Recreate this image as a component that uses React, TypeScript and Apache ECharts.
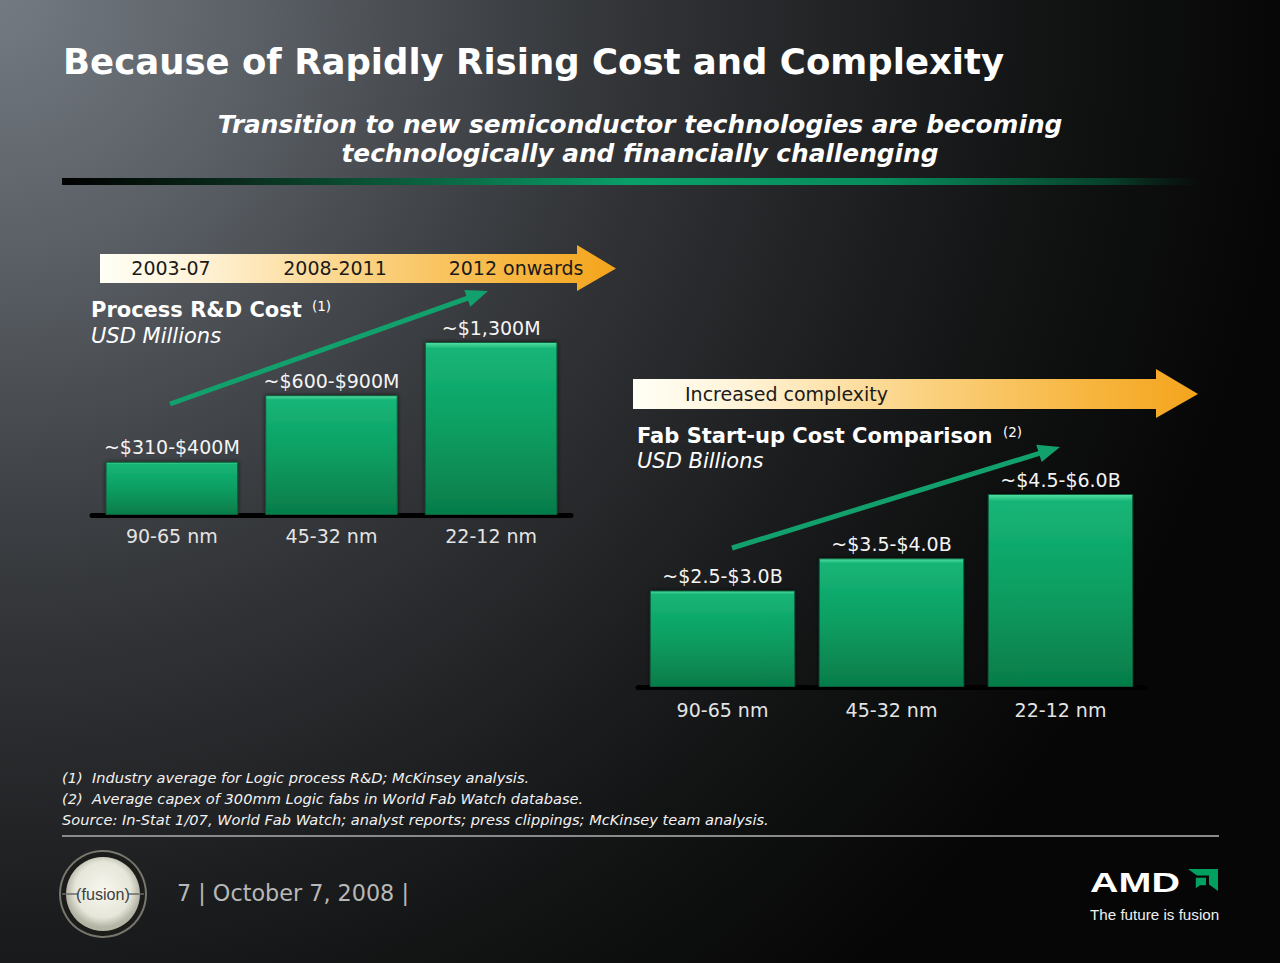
import React, { useEffect, useRef } from "react";
import * as echarts from "echarts";

// ---------- data ----------
const nodeCategories = ["90-65 nm", "45-32 nm", "22-12 nm"];
const rdUpperValues = [400, 900, 1300]; // USD millions (upper bound of range)
const rdLabels = ["~$310-$400M", "~$600-$900M", "~$1,300M"];
const fabUpperValues = [3.0, 4.0, 6.0]; // USD billions (upper bound of range)
const fabLabels = ["~$2.5-$3.0B", "~$3.5-$4.0B", "~$4.5-$6.0B"];
const periodLabels = ["2003-07", "2008-2011", "2012 onwards"];
const complexityLabel = "Increased complexity";
const titleText = "Because of Rapidly Rising Cost and Complexity";
const subtitleLines = [
  "Transition to new semiconductor technologies are becoming",
  "technologically and financially challenging",
];
const footnotes = [
  "(1)  Industry average for Logic process R&D; McKinsey analysis.",
  "(2)  Average capex of 300mm Logic fabs in World Fab Watch database.",
  "Source: In-Stat 1/07, World Fab Watch; analyst reports; press clippings; McKinsey team analysis.",
];
const footerText = "7 | October 7, 2008 |";

const SANS = '"DejaVu Sans", Verdana, sans-serif';
const ARIAL = '"Liberation Sans", Arial, sans-serif';

function txt(text: string, x: number, y: number, s: any = {}) {
  return {
    type: "text",
    x,
    y,
    z: 10,
    silent: true,
    scaleX: s.scaleX ?? 1,
    style: {
      text,
      fill: s.fill ?? "#ffffff",
      fontSize: s.fontSize ?? 19,
      fontFamily: s.fontFamily ?? SANS,
      fontWeight: s.fontWeight ?? "normal",
      fontStyle: s.fontStyle ?? "normal",
      align: s.align ?? "left",
      verticalAlign: "middle",
    },
  };
}

function bandArrow(x0: number, yTop: number, yBot: number, headX: number, headTop: number, headBot: number, tipX: number) {
  const yMid = (yTop + yBot) / 2;
  return {
    type: "polygon",
    z: 5,
    silent: true,
    shape: {
      points: [
        [x0, yTop],
        [headX, yTop],
        [headX, headTop],
        [tipX, yMid],
        [headX, headBot],
        [headX, yBot],
        [x0, yBot],
      ],
    },
    style: {
      fill: new echarts.graphic.LinearGradient(0, 0, 1, 0, [
        { offset: 0, color: "#fffff6" },
        { offset: 0.18, color: "#fff4da" },
        { offset: 0.5, color: "#fbd384" },
        { offset: 0.8, color: "#f7b640" },
        { offset: 1, color: "#f4a41c" },
      ]),
    },
  };
}

function greenArrow(x1: number, y1: number, x2: number, y2: number) {
  const dx = x2 - x1;
  const dy = y2 - y1;
  const len = Math.sqrt(dx * dx + dy * dy);
  const ux = dx / len;
  const uy = dy / len;
  const headLen = 22;
  const headW = 9;
  const bx = x2 - ux * headLen;
  const by = y2 - uy * headLen;
  const nx = -uy;
  const ny = ux;
  const color = "#12a06c";
  return [
    {
      type: "line",
      z: 6,
      silent: true,
      shape: { x1, y1, x2: bx + ux * 2, y2: by + uy * 2 },
      style: { stroke: color, lineWidth: 5 },
    },
    {
      type: "polygon",
      z: 6,
      silent: true,
      shape: {
        points: [
          [x2, y2],
          [bx + nx * headW, by + ny * headW],
          [bx - nx * headW, by - ny * headW],
        ],
      },
      style: { fill: color },
    },
  ];
}

function barStyle() {
  return {
    color: new echarts.graphic.LinearGradient(0, 0, 0, 1, [
      { offset: 0, color: "#56e0a4" },
      { offset: 0.035, color: "#16b577" },
      { offset: 0.5, color: "#0b9e62" },
      { offset: 1, color: "#067c49" },
    ]),
    borderColor: "#0a5e3b",
    borderWidth: 1,
    shadowBlur: 4,
    shadowColor: "rgba(0,0,0,0.7)",
  };
}

export default function App() {
  const ref = useRef<HTMLDivElement>(null);

  useEffect(() => {
    if (!ref.current) return;
    const chart = echarts.init(ref.current, null, { renderer: "svg" });

    const bg = {
      type: "rect",
      z: -100,
      silent: true,
      shape: { x: 0, y: 0, width: 1280, height: 963 },
      style: {
        fill: {
          type: "radial",
          x: 0,
          y: 0,
          r: 1300,
          global: true,
          colorStops: [
            { offset: 0, color: "#747a82" },
            { offset: 0.2, color: "#5a5f65" },
            { offset: 0.4, color: "#3c3f43" },
            { offset: 0.5, color: "#303235" },
            { offset: 0.7, color: "#1c1d1f" },
            { offset: 0.82, color: "#111212" },
            { offset: 1, color: "#060606" },
          ],
        },
      },
    };

    const headerLine = {
      type: "rect",
      z: 5,
      silent: true,
      shape: { x: 62, y: 178, width: 1140, height: 7 },
      style: {
        fill: new echarts.graphic.LinearGradient(0, 0, 1, 0, [
          { offset: 0, color: "#000000" },
          { offset: 0.15, color: "#0a2a1c" },
          { offset: 0.5, color: "#0aa06a" },
          { offset: 0.72, color: "#088c5c" },
          { offset: 0.92, color: "#06402a" },
          { offset: 1, color: "rgba(6,40,26,0)" },
        ]),
      },
    };

    const periodX = [171, 335, 516];

    const graphics: any[] = [
      bg,
      txt(titleText, 63, 61, { fontSize: 35.5, fontWeight: "bold" }),
      txt(subtitleLines[0], 640, 124, { fontSize: 24.8, fontWeight: "bold", fontStyle: "italic", align: "center" }),
      txt(subtitleLines[1], 640, 153, { fontSize: 24.8, fontWeight: "bold", fontStyle: "italic", align: "center" }),
      headerLine,
      bandArrow(100, 254, 283, 577, 245, 291, 616),
      ...periodLabels.map((p, i) => txt(p, periodX[i], 268, { fill: "#1a1a1a", fontSize: 19, align: "center" })),
      txt("Process R&D Cost", 91, 310, { fontSize: 21, fontWeight: "bold" }),
      txt("(1)", 312, 306, { fontSize: 13.5 }),
      txt("USD Millions", 91, 336, { fontSize: 21, fontStyle: "italic" }),
      ...greenArrow(170, 404, 488, 291),
      bandArrow(633, 379, 409, 1156, 369, 418, 1198),
      txt(complexityLabel, 685, 394, { fill: "#1a1a1a", fontSize: 19 }),
      txt("Fab Start-up Cost Comparison", 637, 436, { fontSize: 21, fontWeight: "bold" }),
      txt("(2)", 1003, 432, { fontSize: 13.5 }),
      txt("USD Billions", 637, 461, { fontSize: 21, fontStyle: "italic" }),
      ...greenArrow(732, 548, 1060, 447),
      ...footnotes.map((f, i) =>
        txt(f, 62, 777 + i * 21, { fontSize: 14.6, fontStyle: "italic", fontFamily: SANS, fill: "#f2f2f2" })
      ),
      {
        type: "rect",
        z: 5,
        silent: true,
        shape: { x: 62, y: 835, width: 1157, height: 2 },
        style: { fill: "#8a8a8a" },
      },
      // fusion badge
      {
        type: "circle",
        z: 5,
        silent: true,
        shape: { cx: 103, cy: 894, r: 43 },
        style: { fill: "#1c1c1a", stroke: "#77776e", lineWidth: 2 },
      },
      {
        type: "circle",
        z: 6,
        silent: true,
        shape: { cx: 103, cy: 894, r: 37 },
        style: {
          fill: {
            type: "radial",
            x: 103,
            y: 890,
            r: 37,
            global: true,
            colorStops: [
              { offset: 0, color: "#f7f7ef" },
              { offset: 0.75, color: "#e6e6da" },
              { offset: 1, color: "#b5b5a6" },
            ],
          },
        },
      },
      {
        type: "line",
        z: 7,
        silent: true,
        shape: { x1: 62, y1: 894, x2: 78, y2: 894 },
        style: { stroke: "#6a6a66", lineWidth: 1.5 },
      },
      {
        type: "line",
        z: 7,
        silent: true,
        shape: { x1: 128, y1: 894, x2: 144, y2: 894 },
        style: { stroke: "#6a6a66", lineWidth: 1.5 },
      },
      txt("(fusion)", 103, 894, { fontSize: 17, fill: "#3e3e3e", align: "center", fontFamily: ARIAL, scaleX: 0.95 }),
      txt(footerText, 177, 893, { fontSize: 22.3, fill: "#b8b8b8" }),
      // AMD logo
      txt("AMD", 1090, 882, { fontSize: 28, fontWeight: "bold", fontFamily: ARIAL, scaleX: 1.41 }),
      {
        type: "polygon",
        z: 7,
        silent: true,
        x: 1188,
        y: 869,
        scaleX: 30,
        scaleY: 22,
        shape: {
          points: [
            [0, 0],
            [1, 0],
            [1, 1],
            [0.7, 0.7],
            [0.7, 0.3],
            [0.3, 0.3],
          ],
        },
        style: { fill: "#00a060" },
      },
      {
        type: "polygon",
        z: 7,
        silent: true,
        x: 1188,
        y: 869,
        scaleX: 30,
        scaleY: 22,
        shape: {
          points: [
            [0.26, 0.4],
            [0.6, 0.4],
            [0.6, 0.74],
            [0.4, 0.74],
            [0.26, 0.88],
          ],
        },
        style: { fill: "#00a060" },
      },
      txt("The future is fusion", 1090, 914, { fontSize: 15.2, fontFamily: ARIAL, fill: "#f0f0f0" }),
    ];

    const xAxisCommon = {
      type: "category",
      data: nodeCategories,
      axisTick: { show: false },
      axisLine: { lineStyle: { color: "#000000", width: 5 } },
      axisLabel: { color: "#e4e4e4", fontSize: 19, fontFamily: SANS },
      splitLine: { show: false },
    };

    chart.setOption({
      animation: false,
      backgroundColor: "#0a0a0a",
      grid: [
        { left: 92, top: 342, width: 479, height: 173 },
        { left: 638, top: 494, width: 507, height: 193 },
      ],
      xAxis: [
        { ...xAxisCommon, gridIndex: 0, axisLabel: { ...xAxisCommon.axisLabel, margin: 11 } },
        { ...xAxisCommon, gridIndex: 1, axisLabel: { ...xAxisCommon.axisLabel, margin: 13 } },
      ],
      yAxis: [
        { type: "value", gridIndex: 0, min: 0, max: 1300, show: false, splitLine: { show: false } },
        { type: "value", gridIndex: 1, min: 0, max: 6, show: false, splitLine: { show: false } },
      ],
      series: [
        {
          type: "bar",
          xAxisIndex: 0,
          yAxisIndex: 0,
          data: rdUpperValues,
          barCategoryGap: "17%",
          itemStyle: barStyle(),
          label: {
            show: true,
            position: "top",
            distance: 5,
            color: "#f4f4f4",
            fontSize: 19,
            fontFamily: SANS,
            formatter: (p: any) => rdLabels[p.dataIndex],
          },
        },
        {
          type: "bar",
          xAxisIndex: 1,
          yAxisIndex: 1,
          data: fabUpperValues,
          barCategoryGap: "14%",
          itemStyle: barStyle(),
          label: {
            show: true,
            position: "top",
            distance: 5,
            color: "#f4f4f4",
            fontSize: 19,
            fontFamily: SANS,
            formatter: (p: any) => fabLabels[p.dataIndex],
          },
        },
      ],
      graphic: { elements: graphics },
    });

    return () => chart.dispose();
  }, []);

  return (
    <div
      ref={ref}
      style={{ position: "absolute", left: 0, top: 0, width: 1280, height: 963 }}
    />
  );
}
